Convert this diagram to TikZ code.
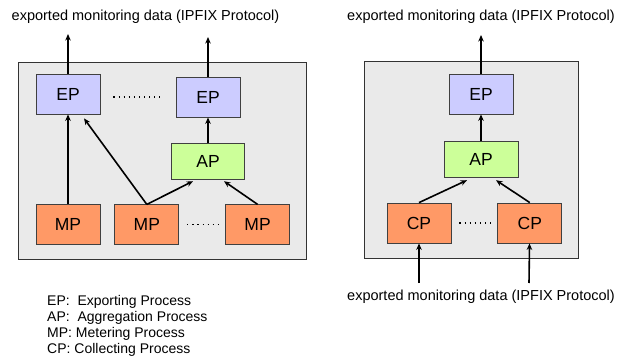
\documentclass[tikz,border=0pt]{standalone}
\usepackage{fontspec}
\setmainfont{Liberation Sans}
\usetikzlibrary{positioning,arrows.meta}

\definecolor{epblue}{HTML}{CCCCFF}
\definecolor{apgreen}{HTML}{CCFF99}
\definecolor{mporange}{HTML}{FF9966}
\definecolor{panelgray}{HTML}{EAEAEA}
\definecolor{edgegray}{HTML}{404040}

\tikzset{
  proc/.style={draw=edgegray,line width=0.8pt,minimum width=64pt,minimum height=40pt,
    inner sep=0pt,font=\fontsize{17.5}{20}\selectfont},
  ep/.style={proc,fill=epblue},
  ap/.style={proc,fill=apgreen,minimum width=73pt,minimum height=36pt},
  mp/.style={proc,fill=mporange},
  panel/.style={draw=black!80,fill=panelgray,line width=0.9pt},
  flow/.style={->,line width=1.6pt},
  etc/.style={line width=1.2pt,dash pattern=on 1.2pt off 3.9pt},
  caption/.style={inner sep=0pt,font=\fontsize{14.5}{17}\selectfont},
  legend/.style={inner sep=0pt,align=left,font=\fontsize{14}{16}\selectfont}
}

\begin{document}
\begin{tikzpicture}[x=1pt,y=-1pt,>={Stealth[length=6.5pt,width=5.5pt]},node distance=14pt]
	\useasboundingbox (0,0) rectangle (618,358);
	% metering side
	\draw[panel] (18,62) rectangle (306,259);
	\node[ep] (ep1) at (68,94) {EP};
	\node[ep] (ep2) at (208,97) {EP};
	\node[ap] (ap1) [below=26pt of ep2] {AP};
	\node[mp] (mp1) [below=90pt of ep1] {MP};
	\node[mp] (mp2) [right=of mp1] {MP};
	\node[mp] (mp3) [right=46pt of mp2] {MP};
	\node[caption] (out1) at (145.5,17) {exported monitoring data (IPFIX Protocol)};
	\coordinate (x1) at (68,34);
	\coordinate (x2) at (208,37);
	\path[flow]
	(ep1) edge (x1)
	(ep2) edge (x2)
	(mp1) edge (ep1)
	(mp2.north) edge ([xshift=16pt,yshift=-4pt]ep1.south)
	edge ([xshift=-15pt,yshift=-1pt]ap1.south)
	(mp3.north) edge ([xshift=16pt,yshift=-1pt]ap1.south)
	(ap1) edge (ep2);
	\draw[etc,shorten <=13pt,shorten >=16pt] (ep2.west -| ep1.east) -- (ep2.west);
	\draw[etc,shorten <=8pt,shorten >=6pt] (mp2) -- (mp3);
	% collecting side
	\draw[panel] (364,61) rectangle (578,258);
	\node[ep] (ep3) at (481,94) {EP};
	\node[ap,minimum width=74pt] (ap2) [below=27pt of ep3] {AP};
	\node[mp] (cp1) at (419,223) {CP};
	\node[mp] (cp2) [right=46pt of cp1] {CP};
	\node[caption] (out2) at (481,17) {exported monitoring data (IPFIX Protocol)};
	\node[caption] (in2) at (481,297) {exported monitoring data (IPFIX Protocol)};
	\coordinate (x3) at (481,35);
	\coordinate (y1) at (419,283);
	\coordinate (y2) at (529,283);
	\path[flow]
	(ep3) edge (x3)
	(ap2) edge (ep3)
	(cp1.north) edge ([xshift=-14pt,yshift=-2pt]ap2.south)
	(cp2.north) edge ([xshift=15pt,yshift=-2pt]ap2.south)
	(y1) edge (cp1)
	(y2) edge (cp2);
	\draw[etc,shorten <=8pt,shorten >=6pt] (cp1) -- (cp2);
	% key
	\node[legend,anchor=north west] (key) at (47,295)
	{EP:\ \ Exporting Process\\AP:\ \ Aggregation Process\\MP: Metering Process\\CP: Collecting Process};
\end{tikzpicture}
\end{document}
